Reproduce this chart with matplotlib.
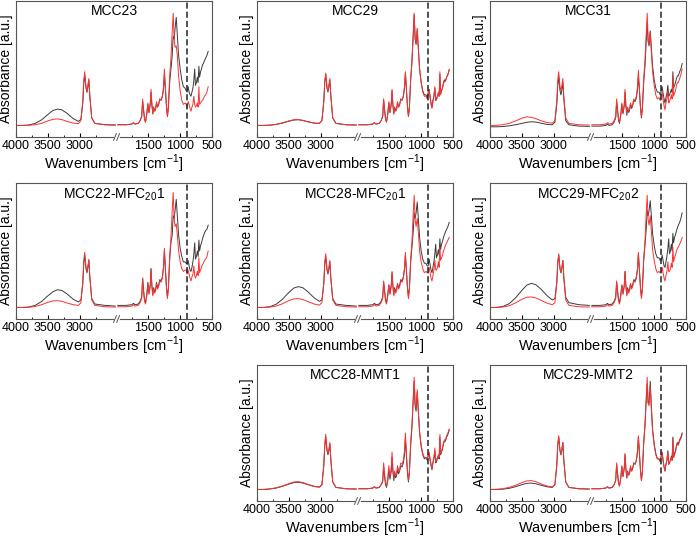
import matplotlib
matplotlib.use("Agg")
import matplotlib.pyplot as plt
from matplotlib.transforms import blended_transform_factory

plt.rcParams['font.family'] = ['Liberation Sans', 'DejaVu Sans']
plt.rcParams['mathtext.fontset'] = 'custom'
plt.rcParams['mathtext.rm'] = 'Liberation Sans'

# wavenumbers [cm-1]: high range and fingerprint range (axis is broken between them)
wn_high = [4000, 3900, 3800, 3700, 3600, 3500, 3420, 3350, 3280, 3200, 3100, 3020, 2980,
           2950, 2935, 2920, 2900, 2885, 2870, 2855, 2840, 2810, 2760, 2600, 2440]
wn_low = [1980, 1850, 1760, 1735, 1710, 1660, 1630, 1605, 1590, 1575, 1560, 1545, 1525, 1508,
          1490, 1470, 1458, 1445, 1430, 1418, 1400, 1385, 1372, 1355, 1338, 1320, 1300, 1280,
          1262, 1248, 1232, 1215, 1200, 1185, 1165, 1145, 1125, 1110, 1095, 1080, 1062, 1045,
          1025, 1000, 975, 950, 925, 905, 890, 875, 860, 845, 830, 815, 800, 785, 772, 760,
          745, 730, 718, 706, 695, 680, 665, 650, 635, 620, 600, 580, 560]

titles = ['MCC23', 'MCC29', 'MCC31',
          'MCC22-MFC$_{\\mathregular{20}}$1', 'MCC28-MFC$_{\\mathregular{20}}$1',
          'MCC29-MFC$_{\\mathregular{20}}$2', 'MCC28-MMT1', 'MCC29-MMT2']

# normalised absorbance, black = reference spectrum, red = second spectrum
mcc23_k_high = [0.085, 0.085, 0.088, 0.100, 0.125, 0.165, 0.195, 0.205, 0.200, 0.175, 0.135, 0.115, 0.13,
                0.25, 0.40, 0.45, 0.36, 0.33, 0.37, 0.42, 0.30, 0.14, 0.10, 0.09, 0.088]
mcc23_r_high = [0.085, 0.085, 0.086, 0.090, 0.100, 0.118, 0.130, 0.133, 0.128, 0.115, 0.102, 0.098, 0.12,
                0.27, 0.42, 0.48, 0.37, 0.33, 0.38, 0.43, 0.30, 0.14, 0.10, 0.09, 0.088]
mcc23_k_low = [0.09, 0.09, 0.095, 0.105, 0.095, 0.10, 0.12, 0.15, 0.26, 0.20, 0.13, 0.11, 0.17, 0.24,
               0.18, 0.24, 0.33, 0.24, 0.17, 0.22, 0.19, 0.21, 0.25, 0.22, 0.24, 0.28, 0.27, 0.30,
               0.35, 0.46, 0.35, 0.22, 0.15, 0.22, 0.40, 0.50, 0.60, 0.74, 0.72, 0.80, 0.88, 0.75,
               0.60, 0.50, 0.42, 0.37, 0.36, 0.34, 0.33, 0.37, 0.33, 0.31, 0.30, 0.33, 0.36, 0.42,
               0.50, 0.38, 0.40, 0.44, 0.40, 0.52, 0.44, 0.48, 0.50, 0.53, 0.54, 0.56, 0.58, 0.60, 0.63]
mcc23_r_low = [0.09, 0.09, 0.095, 0.105, 0.095, 0.10, 0.12, 0.15, 0.28, 0.20, 0.13, 0.11, 0.17, 0.25,
               0.18, 0.25, 0.35, 0.24, 0.17, 0.22, 0.19, 0.21, 0.26, 0.22, 0.24, 0.28, 0.27, 0.30,
               0.37, 0.50, 0.36, 0.22, 0.15, 0.23, 0.45, 0.58, 0.78, 0.91, 0.72, 0.66, 0.67, 0.60,
               0.45, 0.34, 0.27, 0.24, 0.25, 0.24, 0.22, 0.26, 0.24, 0.21, 0.19, 0.22, 0.24, 0.30,
               0.24, 0.22, 0.23, 0.25, 0.22, 0.37, 0.24, 0.25, 0.26, 0.27, 0.28, 0.30, 0.31, 0.33, 0.37]

mcc29_k_high = [0.085, 0.085, 0.087, 0.092, 0.102, 0.116, 0.125, 0.127, 0.122, 0.112, 0.102, 0.100, 0.12,
                0.26, 0.40, 0.46, 0.36, 0.33, 0.37, 0.42, 0.30, 0.14, 0.10, 0.09, 0.088]
mcc29_r_high = [0.085, 0.085, 0.087, 0.093, 0.104, 0.118, 0.127, 0.128, 0.122, 0.112, 0.102, 0.101, 0.12,
                0.27, 0.41, 0.47, 0.37, 0.34, 0.38, 0.43, 0.31, 0.14, 0.10, 0.09, 0.088]
mcc29_k_low = [0.09, 0.09, 0.095, 0.105, 0.095, 0.10, 0.12, 0.15, 0.27, 0.20, 0.13, 0.11, 0.17, 0.25,
               0.18, 0.24, 0.34, 0.24, 0.17, 0.22, 0.19, 0.21, 0.25, 0.22, 0.24, 0.28, 0.27, 0.30,
               0.36, 0.47, 0.35, 0.22, 0.15, 0.22, 0.42, 0.55, 0.75, 0.90, 0.72, 0.68, 0.79, 0.65,
               0.50, 0.40, 0.34, 0.31, 0.31, 0.29, 0.33, 0.35, 0.30, 0.25, 0.22, 0.27, 0.30, 0.36,
               0.27, 0.28, 0.30, 0.32, 0.30, 0.46, 0.32, 0.34, 0.36, 0.40, 0.42, 0.41, 0.44, 0.46, 0.49]
mcc29_r_low = [0.09, 0.09, 0.095, 0.105, 0.095, 0.10, 0.12, 0.15, 0.28, 0.20, 0.13, 0.11, 0.17, 0.26,
               0.18, 0.25, 0.35, 0.24, 0.17, 0.22, 0.19, 0.21, 0.26, 0.22, 0.24, 0.28, 0.27, 0.30,
               0.37, 0.48, 0.35, 0.22, 0.15, 0.22, 0.43, 0.56, 0.76, 0.91, 0.73, 0.69, 0.80, 0.66,
               0.50, 0.40, 0.33, 0.30, 0.30, 0.28, 0.31, 0.35, 0.29, 0.24, 0.21, 0.26, 0.30, 0.37,
               0.27, 0.27, 0.30, 0.33, 0.30, 0.48, 0.31, 0.34, 0.36, 0.39, 0.41, 0.41, 0.44, 0.46, 0.50]

mcc31_k_high = [0.075, 0.075, 0.077, 0.082, 0.090, 0.100, 0.108, 0.112, 0.110, 0.102, 0.092, 0.090, 0.11,
                0.24, 0.38, 0.44, 0.34, 0.31, 0.35, 0.40, 0.28, 0.12, 0.09, 0.08, 0.078]
mcc31_r_high = [0.085, 0.086, 0.090, 0.100, 0.118, 0.138, 0.148, 0.145, 0.135, 0.120, 0.106, 0.102, 0.12,
                0.27, 0.42, 0.48, 0.37, 0.34, 0.38, 0.43, 0.30, 0.14, 0.10, 0.09, 0.088]
mcc31_k_low = [0.08, 0.08, 0.085, 0.095, 0.085, 0.09, 0.11, 0.14, 0.26, 0.19, 0.12, 0.10, 0.16, 0.24,
               0.17, 0.23, 0.33, 0.23, 0.16, 0.21, 0.18, 0.20, 0.24, 0.21, 0.23, 0.27, 0.26, 0.29,
               0.35, 0.45, 0.34, 0.21, 0.14, 0.21, 0.40, 0.52, 0.70, 0.84, 0.70, 0.67, 0.78, 0.66,
               0.52, 0.42, 0.36, 0.33, 0.33, 0.31, 0.34, 0.37, 0.32, 0.28, 0.25, 0.29, 0.32, 0.38,
               0.30, 0.31, 0.33, 0.35, 0.33, 0.48, 0.36, 0.38, 0.40, 0.43, 0.45, 0.45, 0.48, 0.50, 0.54]
mcc31_r_low = [0.09, 0.09, 0.095, 0.105, 0.095, 0.10, 0.12, 0.15, 0.28, 0.20, 0.13, 0.11, 0.17, 0.25,
               0.18, 0.24, 0.35, 0.24, 0.17, 0.22, 0.19, 0.21, 0.25, 0.22, 0.24, 0.28, 0.27, 0.30,
               0.37, 0.49, 0.35, 0.22, 0.15, 0.22, 0.43, 0.56, 0.76, 0.91, 0.72, 0.68, 0.77, 0.63,
               0.48, 0.38, 0.31, 0.28, 0.29, 0.27, 0.30, 0.33, 0.28, 0.23, 0.20, 0.25, 0.28, 0.34,
               0.25, 0.26, 0.28, 0.31, 0.28, 0.45, 0.30, 0.32, 0.34, 0.38, 0.40, 0.40, 0.43, 0.46, 0.50]

mfc221_k_high = [0.085, 0.085, 0.088, 0.100, 0.128, 0.170, 0.200, 0.215, 0.210, 0.185, 0.145, 0.125, 0.14,
                 0.26, 0.41, 0.47, 0.37, 0.34, 0.38, 0.43, 0.31, 0.15, 0.11, 0.10, 0.095]
mfc221_r_high = [0.085, 0.085, 0.086, 0.092, 0.105, 0.122, 0.133, 0.135, 0.130, 0.118, 0.105, 0.100, 0.12,
                 0.28, 0.43, 0.49, 0.38, 0.35, 0.39, 0.44, 0.31, 0.14, 0.10, 0.09, 0.088]
mfc221_k_low = [0.10, 0.10, 0.105, 0.115, 0.105, 0.11, 0.13, 0.16, 0.30, 0.21, 0.14, 0.12, 0.18, 0.27,
                0.19, 0.25, 0.37, 0.25, 0.18, 0.23, 0.20, 0.22, 0.27, 0.23, 0.25, 0.29, 0.28, 0.31,
                0.38, 0.50, 0.37, 0.23, 0.16, 0.23, 0.44, 0.56, 0.62, 0.76, 0.74, 0.80, 0.88, 0.76,
                0.62, 0.52, 0.46, 0.42, 0.42, 0.41, 0.40, 0.43, 0.39, 0.36, 0.35, 0.38, 0.42, 0.48,
                0.56, 0.44, 0.46, 0.50, 0.46, 0.58, 0.50, 0.54, 0.56, 0.59, 0.61, 0.63, 0.65, 0.66, 0.69]
mfc221_r_low = [0.09, 0.09, 0.095, 0.105, 0.095, 0.10, 0.12, 0.15, 0.30, 0.20, 0.13, 0.11, 0.17, 0.26,
                0.18, 0.25, 0.37, 0.24, 0.17, 0.22, 0.19, 0.21, 0.26, 0.22, 0.24, 0.28, 0.27, 0.30,
                0.38, 0.52, 0.36, 0.22, 0.15, 0.23, 0.46, 0.60, 0.80, 0.93, 0.74, 0.68, 0.70, 0.62,
                0.50, 0.42, 0.37, 0.35, 0.36, 0.36, 0.33, 0.36, 0.33, 0.30, 0.28, 0.31, 0.33, 0.39,
                0.32, 0.30, 0.32, 0.35, 0.32, 0.45, 0.34, 0.36, 0.38, 0.40, 0.41, 0.43, 0.44, 0.46, 0.50]

mfc281_k_high = [0.085, 0.085, 0.090, 0.108, 0.145, 0.195, 0.228, 0.238, 0.230, 0.200, 0.155, 0.130, 0.14,
                 0.26, 0.40, 0.46, 0.36, 0.33, 0.37, 0.42, 0.30, 0.15, 0.11, 0.10, 0.095]
mfc281_r_high = [0.085, 0.085, 0.087, 0.095, 0.112, 0.135, 0.148, 0.150, 0.143, 0.128, 0.110, 0.102, 0.12,
                 0.27, 0.42, 0.48, 0.37, 0.34, 0.38, 0.43, 0.30, 0.14, 0.10, 0.09, 0.088]
mfc281_k_low = [0.10, 0.10, 0.105, 0.115, 0.105, 0.11, 0.13, 0.16, 0.27, 0.21, 0.14, 0.12, 0.18, 0.25,
                0.19, 0.25, 0.34, 0.25, 0.18, 0.23, 0.20, 0.22, 0.26, 0.23, 0.25, 0.29, 0.28, 0.31,
                0.37, 0.47, 0.36, 0.23, 0.16, 0.23, 0.42, 0.53, 0.64, 0.78, 0.74, 0.78, 0.86, 0.74,
                0.60, 0.50, 0.44, 0.41, 0.41, 0.39, 0.39, 0.44, 0.40, 0.36, 0.34, 0.38, 0.42, 0.48,
                0.55, 0.45, 0.47, 0.51, 0.47, 0.59, 0.51, 0.55, 0.57, 0.60, 0.62, 0.64, 0.66, 0.68, 0.71]
mfc281_r_low = [0.09, 0.09, 0.095, 0.105, 0.095, 0.10, 0.12, 0.15, 0.28, 0.20, 0.13, 0.11, 0.17, 0.25,
                0.18, 0.24, 0.35, 0.24, 0.17, 0.22, 0.19, 0.21, 0.26, 0.22, 0.24, 0.28, 0.27, 0.30,
                0.37, 0.49, 0.35, 0.22, 0.15, 0.22, 0.44, 0.57, 0.78, 0.91, 0.73, 0.68, 0.74, 0.64,
                0.50, 0.42, 0.37, 0.34, 0.35, 0.34, 0.34, 0.38, 0.34, 0.30, 0.28, 0.32, 0.36, 0.43,
                0.36, 0.36, 0.38, 0.42, 0.38, 0.53, 0.43, 0.45, 0.47, 0.50, 0.52, 0.54, 0.56, 0.58, 0.60]

mfc292_k_high = [0.085, 0.085, 0.092, 0.112, 0.155, 0.210, 0.250, 0.262, 0.252, 0.220, 0.170, 0.140, 0.15,
                 0.27, 0.41, 0.47, 0.37, 0.34, 0.38, 0.43, 0.31, 0.16, 0.12, 0.105, 0.10]
mfc292_r_high = [0.085, 0.085, 0.088, 0.097, 0.118, 0.145, 0.160, 0.162, 0.155, 0.138, 0.116, 0.105, 0.12,
                 0.27, 0.42, 0.48, 0.37, 0.34, 0.38, 0.43, 0.30, 0.14, 0.10, 0.09, 0.088]
mfc292_k_low = [0.10, 0.10, 0.105, 0.115, 0.105, 0.11, 0.13, 0.16, 0.27, 0.21, 0.14, 0.12, 0.18, 0.25,
                0.19, 0.25, 0.35, 0.25, 0.18, 0.23, 0.20, 0.22, 0.26, 0.23, 0.25, 0.29, 0.28, 0.31,
                0.37, 0.48, 0.36, 0.23, 0.16, 0.23, 0.43, 0.54, 0.66, 0.80, 0.76, 0.80, 0.87, 0.76,
                0.63, 0.54, 0.48, 0.45, 0.45, 0.43, 0.43, 0.47, 0.43, 0.39, 0.38, 0.42, 0.46, 0.52,
                0.59, 0.48, 0.50, 0.55, 0.50, 0.63, 0.56, 0.60, 0.62, 0.65, 0.67, 0.69, 0.71, 0.74, 0.78]
mfc292_r_low = [0.09, 0.09, 0.095, 0.105, 0.095, 0.10, 0.12, 0.15, 0.28, 0.20, 0.13, 0.11, 0.17, 0.25,
                0.18, 0.24, 0.35, 0.24, 0.17, 0.22, 0.19, 0.21, 0.26, 0.22, 0.24, 0.28, 0.27, 0.30,
                0.37, 0.49, 0.35, 0.22, 0.15, 0.22, 0.44, 0.57, 0.78, 0.91, 0.73, 0.69, 0.76, 0.65,
                0.51, 0.43, 0.37, 0.34, 0.35, 0.34, 0.34, 0.38, 0.34, 0.30, 0.28, 0.32, 0.35, 0.42,
                0.35, 0.35, 0.37, 0.41, 0.38, 0.53, 0.42, 0.45, 0.47, 0.50, 0.52, 0.53, 0.55, 0.57, 0.60]

mmt281_k_high = [0.085, 0.085, 0.088, 0.095, 0.108, 0.124, 0.135, 0.138, 0.132, 0.120, 0.106, 0.102, 0.12,
                 0.26, 0.40, 0.47, 0.37, 0.34, 0.37, 0.42, 0.30, 0.14, 0.10, 0.09, 0.088]
mmt281_r_high = [0.085, 0.085, 0.089, 0.097, 0.110, 0.128, 0.140, 0.142, 0.136, 0.122, 0.108, 0.103, 0.12,
                 0.27, 0.42, 0.49, 0.38, 0.35, 0.38, 0.43, 0.31, 0.14, 0.10, 0.09, 0.088]
mmt281_k_low = [0.09, 0.09, 0.095, 0.105, 0.095, 0.10, 0.12, 0.14, 0.25, 0.18, 0.12, 0.10, 0.15, 0.23,
                0.16, 0.22, 0.32, 0.22, 0.15, 0.20, 0.17, 0.19, 0.23, 0.20, 0.22, 0.26, 0.25, 0.28,
                0.34, 0.46, 0.33, 0.20, 0.14, 0.21, 0.41, 0.54, 0.74, 0.88, 0.70, 0.66, 0.80, 0.66,
                0.50, 0.40, 0.34, 0.31, 0.32, 0.30, 0.33, 0.35, 0.30, 0.26, 0.23, 0.28, 0.31, 0.37,
                0.28, 0.29, 0.31, 0.33, 0.31, 0.47, 0.34, 0.36, 0.38, 0.42, 0.44, 0.44, 0.47, 0.49, 0.52]
mmt281_r_low = [0.09, 0.09, 0.095, 0.105, 0.095, 0.10, 0.12, 0.15, 0.28, 0.20, 0.13, 0.11, 0.17, 0.26,
                0.18, 0.25, 0.36, 0.24, 0.17, 0.22, 0.19, 0.21, 0.26, 0.22, 0.24, 0.28, 0.27, 0.30,
                0.37, 0.50, 0.35, 0.22, 0.15, 0.22, 0.43, 0.56, 0.76, 0.91, 0.72, 0.68, 0.82, 0.67,
                0.51, 0.41, 0.35, 0.32, 0.32, 0.31, 0.34, 0.36, 0.31, 0.27, 0.24, 0.29, 0.32, 0.39,
                0.29, 0.30, 0.32, 0.34, 0.32, 0.49, 0.35, 0.37, 0.39, 0.43, 0.45, 0.45, 0.48, 0.50, 0.53]

mmt292_k_high = [0.085, 0.085, 0.087, 0.093, 0.105, 0.120, 0.130, 0.132, 0.127, 0.116, 0.104, 0.100, 0.12,
                 0.26, 0.41, 0.47, 0.37, 0.34, 0.38, 0.43, 0.30, 0.14, 0.10, 0.09, 0.088]
mmt292_r_high = [0.085, 0.086, 0.090, 0.100, 0.115, 0.135, 0.148, 0.150, 0.142, 0.126, 0.110, 0.104, 0.12,
                 0.27, 0.42, 0.48, 0.37, 0.34, 0.38, 0.43, 0.30, 0.14, 0.10, 0.09, 0.088]
mmt292_k_low = [0.09, 0.09, 0.095, 0.105, 0.095, 0.10, 0.12, 0.15, 0.27, 0.20, 0.13, 0.11, 0.17, 0.25,
                0.18, 0.24, 0.34, 0.24, 0.17, 0.22, 0.19, 0.21, 0.25, 0.22, 0.24, 0.28, 0.27, 0.30,
                0.36, 0.47, 0.35, 0.22, 0.15, 0.22, 0.42, 0.55, 0.74, 0.86, 0.72, 0.72, 0.88, 0.70,
                0.53, 0.42, 0.35, 0.31, 0.31, 0.29, 0.33, 0.36, 0.30, 0.25, 0.22, 0.27, 0.30, 0.37,
                0.27, 0.28, 0.30, 0.33, 0.30, 0.47, 0.32, 0.35, 0.37, 0.41, 0.43, 0.42, 0.45, 0.47, 0.50]
mmt292_r_low = [0.09, 0.09, 0.095, 0.105, 0.095, 0.10, 0.12, 0.15, 0.28, 0.20, 0.13, 0.11, 0.17, 0.26,
                0.18, 0.25, 0.35, 0.24, 0.17, 0.22, 0.19, 0.21, 0.26, 0.22, 0.24, 0.28, 0.27, 0.30,
                0.37, 0.48, 0.35, 0.22, 0.15, 0.22, 0.43, 0.56, 0.76, 0.91, 0.72, 0.70, 0.84, 0.68,
                0.51, 0.41, 0.34, 0.31, 0.31, 0.29, 0.33, 0.35, 0.30, 0.25, 0.22, 0.27, 0.30, 0.36,
                0.27, 0.28, 0.30, 0.32, 0.30, 0.46, 0.32, 0.34, 0.36, 0.40, 0.42, 0.41, 0.44, 0.46, 0.49]

# (row, col) slot of each panel in the 3x3 grid
slots = [(0, 0), (0, 1), (0, 2), (1, 0), (1, 1), (1, 2), (2, 1), (2, 2)]
spectra = [
    (mcc23_k_high, mcc23_r_high, mcc23_k_low, mcc23_r_low),
    (mcc29_k_high, mcc29_r_high, mcc29_k_low, mcc29_r_low),
    (mcc31_k_high, mcc31_r_high, mcc31_k_low, mcc31_r_low),
    (mfc221_k_high, mfc221_r_high, mfc221_k_low, mfc221_r_low),
    (mfc281_k_high, mfc281_r_high, mfc281_k_low, mfc281_r_low),
    (mfc292_k_high, mfc292_r_high, mfc292_k_low, mfc292_r_low),
    (mmt281_k_high, mmt281_r_high, mmt281_k_low, mmt281_r_low),
    (mmt292_k_high, mmt292_r_high, mmt292_k_low, mmt292_r_low),
]

marker_wn = 897
shift = 420          # high range is pulled left by this much to hide 2440-1980
brk = 2000           # position of the axis break

W, H = 700, 539
col_left = [16, 257, 490]
row_top = [1, 183, 365]
ax_w, ax_h = 196, 136

fig = plt.figure(figsize=(W / 100, H / 100), dpi=100)

for title, (r, c), (kh, rh, kl, rl) in zip(titles, slots, spectra):
    ax = fig.add_axes([col_left[c] / W, (H - row_top[r] - ax_h) / H, ax_w / W, ax_h / H])
    assert len(kh) == len(wn_high) and len(rh) == len(wn_high)
    assert len(kl) == len(wn_low) and len(rl) == len(wn_low)
    xh = [w - shift for w in wn_high]
    ax.plot(xh, kh, color='#3a3a3a', lw=0.7)
    ax.plot(wn_low, kl, color='#3a3a3a', lw=0.7)
    ax.plot(xh, rh, color='#ff3030', lw=0.7)
    ax.plot(wn_low, rl, color='#ff3030', lw=0.7)
    ax.axvline(marker_wn, color='#222222', lw=1.1, ls=(0, (4, 2)))

    ax.set_xlim(4000 - shift, 500)
    ax.set_ylim(0, 1)
    ax.set_xticks([4000 - shift, 3500 - shift, 3000 - shift, 1500, 1000, 500])
    ax.set_xticklabels(['4000', '3500', '3000', '1500', '1000', '500'])
    ax.set_xticks([3750 - shift, 3250 - shift, 2750 - shift, 1750, 1250, 750], minor=True)
    ax.set_yticks([])
    ax.tick_params(axis='x', which='major', direction='in', length=3, labelsize=9, pad=2.5)
    ax.tick_params(axis='x', which='minor', direction='in', length=1.5)
    for s in ax.spines.values():
        s.set_color('#555555')
        s.set_linewidth(0.8)

    # break marks on the bottom axis
    tr = blended_transform_factory(ax.transData, ax.transAxes)
    ax.plot([brk + 25, brk - 25], [0, 0], color='white', lw=2, transform=tr, clip_on=False, zorder=5)
    for cx in (brk + 25, brk - 25):
        ax.plot([cx + 22, cx - 22], [-0.025, 0.025], color='#555555', lw=0.7,
                transform=tr, clip_on=False, zorder=6)

    ax.text(0.5, 0.975, title, transform=ax.transAxes, ha='center', va='top', fontsize=10)
    ax.set_xlabel('Wavenumbers [cm$^{\\mathregular{-1}}$]', fontsize=10.5, labelpad=0)
    ax.set_ylabel('Absorbance [a.u.]', fontsize=10, labelpad=2)

fig.savefig('out.png', dpi=100)
